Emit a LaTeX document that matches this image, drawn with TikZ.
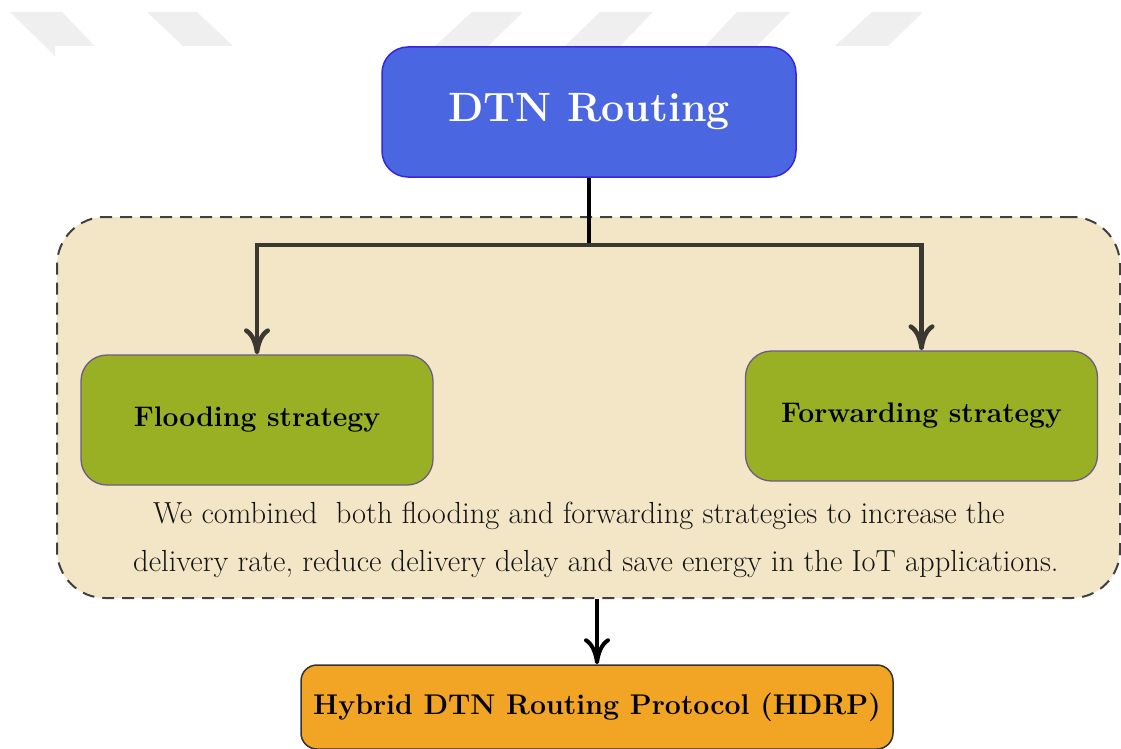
\documentclass[tikz,border=0pt]{standalone}
\usepackage{fontspec}
\usetikzlibrary{arrows.meta}
\definecolor{dtnblue}{HTML}{4A66E0}
\definecolor{dtnborder}{HTML}{3A24E4}
\definecolor{wheatbg}{HTML}{F2E6C6}
\definecolor{leafgreen}{HTML}{9AB024}
\definecolor{leafborder}{HTML}{6B5B88}
\definecolor{hdrporange}{HTML}{F2A425}
\definecolor{linegrey}{HTML}{3A3830}
\definecolor{markgrey}{HTML}{EFEFEF}
\definecolor{textgrey}{HTML}{151515}
\tikzset{
  topbox/.style={draw=dtnborder, line width=1.5pt, fill=dtnblue, rounded corners=26pt,
    inner sep=0pt, minimum width=414pt, minimum height=130pt, text=white,
    font=\fontsize{41}{46}\selectfont\bfseries},
  groupbox/.style={draw=black!75, line width=2pt, dash pattern=on 12pt off 8pt,
    fill=wheatbg, rounded corners=48pt, inner sep=0pt, minimum width=1063pt, minimum height=381pt},
  leafbox/.style={draw=leafborder, line width=1.3pt, fill=leafgreen, rounded corners=26pt,
    inner sep=0pt, minimum width=352pt, minimum height=130pt, text=black,
    font=\fontsize{28.3}{32}\selectfont\bfseries},
  resultbox/.style={draw=black!80, line width=1.5pt, fill=hdrporange, rounded corners=16pt,
    inner sep=0pt, minimum width=592pt, minimum height=84pt, text=black,
    font=\fontsize{28.5}{32}\selectfont\bfseries},
  bodytext/.style={inner sep=0pt, text=textgrey, font=\fontsize{30.5}{34}\selectfont},
  mainline/.style={draw=black, line width=4pt},
  busline/.style={draw=linegrey, line width=4.5pt},
  bigtip/.style={-{Computer Modern Rightarrow[length=26pt,width=26pt]}},
}
\begin{document}
\begin{tikzpicture}[x=1pt,y=-1pt]
\useasboundingbox (0,0) rectangle (1121,749);
% faint watermark marks along the top
\fill[markgrey] (10,12) -- (62,12) -- (95,46) -- (55,46) -- (55,56) -- cycle;
\fill[markgrey] (147,12) -- (197,12) -- (233,46) -- (183,46) -- cycle;
\fill[markgrey] (472,12) -- (523,12) -- (488,46) -- (435,46) -- cycle;
\fill[markgrey] (600,12) -- (653,12) -- (620,46) -- (565,46) -- cycle;
\fill[markgrey] (737,12) -- (790,12) -- (757,46) -- (705,46) -- cycle;
\fill[markgrey] (872,12) -- (923,12) -- (888,46) -- (835,46) -- cycle;

\node[groupbox] (group) at (588.5,407.5) {};
\node[topbox] (dtn) at (589,112) {DTN Routing};
\node[leafbox] (flood) at (257,420) {Flooding strategy};
\node[leafbox] (forward) at (921.5,416) {Forwarding strategy};
\node[bodytext, anchor=base west] (line1) at (153,523)
  {We combined~\ both flooding and forwarding strategies to increase the};
\node[bodytext, anchor=base west] (line2) at (133,571)
  {delivery rate, reduce delivery delay and save energy in the IoT applications.};
\node[resultbox] (hdrp) at (597,707) {Hybrid DTN Routing Protocol (HDRP)};

\coordinate (bus) at (dtn.south |- 0,245);
\draw[mainline] (dtn.south) -- (bus);
\draw[busline, bigtip] (bus) -| (flood.north);
\draw[busline, bigtip] (bus) -| (forward.north);
\draw[mainline, bigtip] (hdrp.north |- group.south) -- (hdrp.north);
\end{tikzpicture}
\end{document}
